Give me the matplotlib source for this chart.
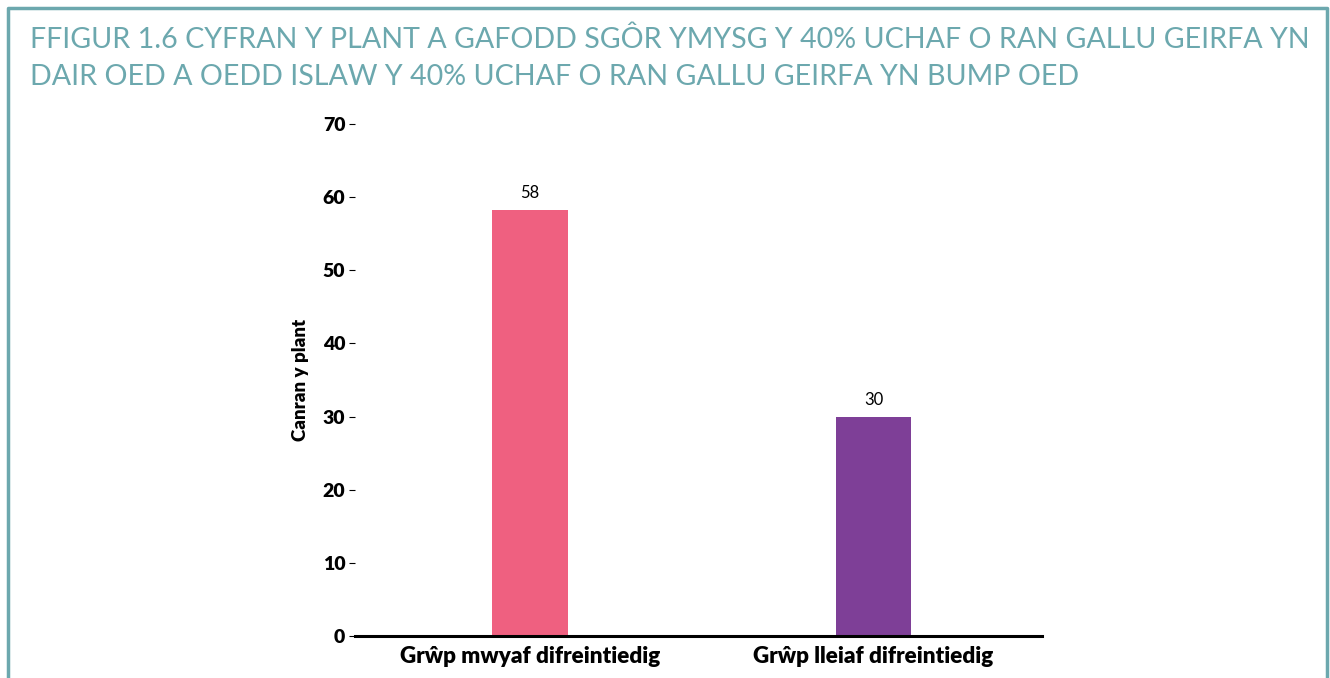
import matplotlib.pyplot as plt
from matplotlib.lines import Line2D

# data
categories = ['Grŵp mwyaf difreintiedig', 'Grŵp lleiaf difreintiedig']
values = [58.3, 30]
value_labels = ['58', '30']
bar_colors = ['#EF6080', '#7E3F97']
yticks = [0, 10, 20, 30, 40, 50, 60, 70]

title = ('FFIGUR 1.6 CYFRAN Y PLANT A GAFODD SGÔR YMYSG Y 40% UCHAF O RAN GALLU GEIRFA YN\n'
         'DAIR OED A OEDD ISLAW Y 40% UCHAF O RAN GALLU GEIRFA YN BUMP OED')
teal = '#6CA8AE'

plt.rcParams['font.family'] = ['Lato', 'DejaVu Sans']

fig = plt.figure(figsize=(13.3, 6.78), dpi=100)
ax = fig.add_axes([0.2669, 0.0619, 0.5165, 0.7552])

x = list(range(len(categories)))
ax.bar(x, values, width=0.22, color=bar_colors)
for xi, v, lab in zip(x, values, value_labels):
    ax.text(xi, v + 1.2, lab, ha='center', va='bottom', fontsize=12, color='black')

ax.set_xlim(-0.51, 1.49)
ax.set_ylim(0, 70)
ax.set_yticks(yticks)
ax.set_yticklabels([str(t) for t in yticks], fontsize=14, fontweight='heavy')
ax.set_xticks(x)
ax.set_xticklabels(categories, fontsize=16.2, fontweight='heavy')
ax.tick_params(axis='x', length=0, pad=7)
ax.tick_params(axis='y', length=4, width=0.8, pad=3)
ax.set_ylabel('Canran y plant', fontsize=13.5, fontweight='heavy', labelpad=10)

for s in ['top', 'right', 'left']:
    ax.spines[s].set_visible(False)
ax.spines['bottom'].set_linewidth(2.2)

# title and frame
fig.text(30 / 1330, 1 - 27 / 678, title, ha='left', va='top', fontsize=20.6,
         color=teal, linespacing=1.5)
fx = [8 / 1330, 8 / 1330, 1327 / 1330, 1327 / 1330]
fy = [0, 1 - 8 / 678, 1 - 8 / 678, 0]
fig.add_artist(Line2D(fx, fy, transform=fig.transFigure, color=teal, linewidth=2.5))

fig.savefig('out.png', dpi=100)
